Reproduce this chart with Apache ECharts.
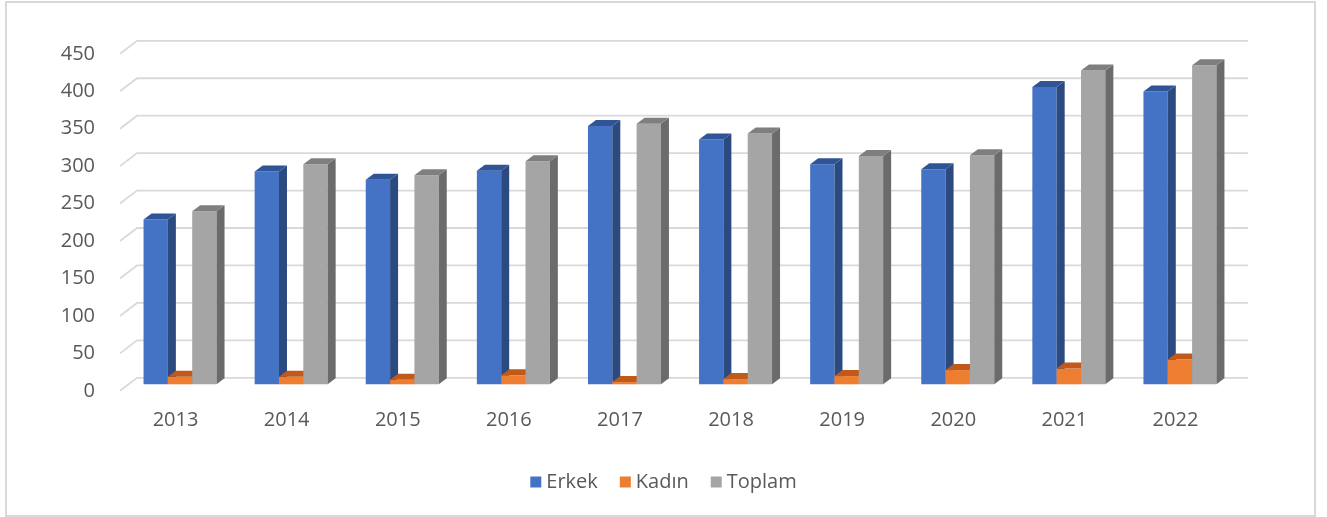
<!DOCTYPE html>
<html>
<head>
<meta charset="utf-8">
<script src="https://cdn.jsdelivr.net/npm/echarts@6/dist/echarts.min.js"></script>
<style>
  html, body { margin: 0; padding: 0; background: #fff; }
</style>
</head>
<body>
<div id="chart_con" style="width:1327px;height:517px;"></div>
<script>
const years = ['2013', '2014', '2015', '2016', '2017', '2018', '2019', '2020', '2021', '2022'];
const erkek = [220, 284, 273, 285, 345, 327, 294, 287, 397, 391];
const kadin = [10, 10, 6, 12, 3, 7, 11, 19, 21, 33];
const toplam = [231, 294, 279, 298, 348, 335, 305, 306, 419, 426];
const yTicks = [0, 50, 100, 150, 200, 250, 300, 350, 400, 450];

// front, side, top colours per series
const palette = [
    ['#4472C4', '#2B4A80', '#2F5597'],
    ['#ED7D31', '#B35418', '#C0591A'],
    ['#A5A5A5', '#6B6B6B', '#7F7F7F']
];
const depthX = 8.5, depthY = 6.5;   // half depth of the floor
const barDx = 8, barDy = 6;         // bar depth

function barRenderer(sIdx) {
    return function (params, api) {
        const i = api.value(0);
        const base = api.coord([i, 0]);
        const top = api.coord([i, api.value(1)]);
        const band = api.size([1, 0])[0];
        const w = band * 0.219;
        const x = base[0] - 1.5 * w - barDx / 2 + sIdx * w;
        const yb = base[1], yt = top[1];
        const c = palette[sIdx];
        return {
            type: 'group',
            children: [
                { type: 'rect', shape: { x: x, y: yt, width: w, height: yb - yt }, style: { fill: c[0] } },
                { type: 'polygon', shape: { points: [[x + w, yt], [x + w + barDx, yt - barDy], [x + w + barDx, yb - barDy], [x + w, yb]] }, style: { fill: c[1] } },
                { type: 'polygon', shape: { points: [[x, yt], [x + barDx, yt - barDy], [x + w + barDx, yt - barDy], [x + w, yt]] }, style: { fill: c[2] } }
            ]
        };
    };
}

const seriesData = [erkek, kadin, toplam];
const names = ['Erkek', 'Kadın', 'Toplam'];

const barSeries = seriesData.map(function (vals, s) {
    return {
        name: names[s],
        type: 'custom',
        xAxisIndex: 0,
        yAxisIndex: 0,
        itemStyle: { color: palette[s][0] },
        renderItem: barRenderer(s),
        data: vals.map(function (v, i) { return [i, v]; }),
        z: 3
    };
});

const option = {
    animation: false,
    textStyle: { fontFamily: 'Open Sans' },
    graphic: [{
        type: 'rect',
        shape: { x: 6, y: 2, width: 1309, height: 514 },
        style: { fill: 'none', stroke: '#d9d9d9', lineWidth: 2 },
        silent: true
    }],
    legend: {
        data: names,
        left: 'center',
        top: 467,
        icon: 'rect',
        itemWidth: 11,
        itemHeight: 11,
        itemGap: 22,
        textStyle: { color: '#595959', fontSize: 20, fontFamily: 'Open Sans' }
    },
    grid: [
        // mid plane, where the bars sit
        { left: 128.5, right: 87.5, top: 47.3, bottom: 132.7 },
        // front plane, for the labels
        { left: 120, right: 96, top: 53.8, bottom: 126.2 }
    ],
    xAxis: [
        { type: 'category', gridIndex: 0, data: years, show: false },
        {
            type: 'category', gridIndex: 1, data: years,
            axisLine: { show: false }, axisTick: { show: false },
            axisLabel: { color: '#595959', fontSize: 20, margin: 19, fontFamily: 'Open Sans' }
        }
    ],
    yAxis: [
        { type: 'value', gridIndex: 0, min: 0, max: 450, interval: 50, show: false },
        {
            type: 'value', gridIndex: 1, min: 0, max: 450, interval: 50,
            axisLine: { show: false }, axisTick: { show: false },
            splitLine: { show: false },
            axisLabel: { color: '#595959', fontSize: 20, margin: 25, fontFamily: 'Open Sans' }
        }
    ],
    series: [{
        type: 'custom',
        xAxisIndex: 0,
        yAxisIndex: 0,
        silent: true,
        z: 1,
        renderItem: function (params, api) {
            const cs = params.coordSys;
            const y = api.coord([0, api.value(0)])[1];
            return {
                type: 'polyline',
                shape: { points: [[cs.x - depthX, y + depthY], [cs.x + depthX, y - depthY], [cs.x + cs.width + depthX, y - depthY]] },
                style: { stroke: '#d9d9d9', lineWidth: 1.8, fill: 'none' }
            };
        },
        data: yTicks.map(function (t) { return [t]; }),
        encode: { y: 0 }
    }].concat(barSeries)
};

const chart = echarts.init(document.getElementById('chart_con'));
chart.setOption(option);
window.addEventListener('resize', function () {
    chart.resize();
});
</script>
</body>
</html>
